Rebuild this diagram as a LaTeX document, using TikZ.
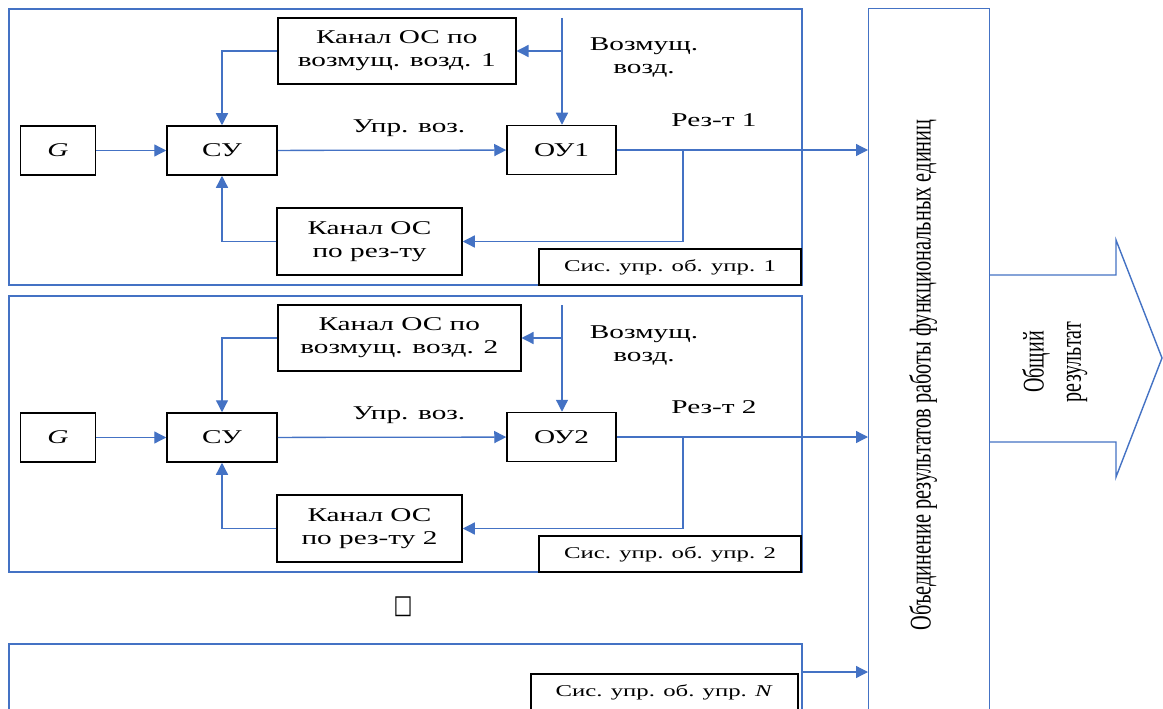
\documentclass[tikz,border=0pt]{standalone}
\usepackage{fontspec}
\setmainfont{Liberation Serif}
\newfontfamily\symfont{DejaVu Sans}
\usetikzlibrary{arrows.meta,calc}
\definecolor{lineblue}{RGB}{68,114,196}
\newcommand{\hs}[1]{\scalebox{1.5}[1]{#1}}
\newcommand{\mfs}{\fontsize{19.5}{23}\selectfont}
\newcommand{\lfs}{\fontsize{16.5}{20}\selectfont}
\tikzset{
  box/.style={draw=black, line width=1.5pt, fill=white, inner sep=0pt, align=center, font=\mfs},
  conn/.style={draw=lineblue, line width=1.3pt},
  arr/.style={conn, -{Triangle[length=12pt,width=12pt]}},
  frame/.style={draw=lineblue, line width=1.4pt},
  lbl/.style={font=\mfs, inner sep=0pt, align=center}
}
\newcommand{\sysblock}[8]{%
\begin{scope}[shift={(0,#2)}]
\draw[frame] (9,9) rectangle (802,285);
\node[box, minimum width=75pt, minimum height=49pt] (G#1) at (58,150.5) {\hs{\textit{G}}};
\node[box, minimum width=110pt, minimum height=49pt] (su#1) at (222,150.5) {\hs{СУ}};
\node[box, anchor=west, minimum width=#8, minimum height=66pt] (kv#1) at (277,51) {#3};
\node[box, minimum width=185pt, minimum height=67pt] (kr#1) at (369.5,241.5) {#4};
\node[box, minimum width=109pt, minimum height=49pt] (ou#1) at (561.5,150) {\hs{#5}};
\node[box, minimum width=262pt, minimum height=36pt, font=\lfs] (lab#1) at (670,267) {\hs{#7}};
\coordinate (d#1) at (562,18);
\coordinate (b#1) at (562,51);
\coordinate (r#1) at (683,150);
\draw[arr] (G#1) -- (su#1);
\draw[arr] (su#1) -- (ou#1);
\draw[arr] (kv#1.west) -| (su#1.north);
\draw[arr] (kr#1.west) -| (su#1.south);
\draw[arr] (d#1) -- (d#1 |- ou#1.north);
\draw[arr] (b#1) -- (b#1 -| kv#1.east);
\draw[arr] (ou#1.east) -- (ou#1.east -| big.west);
\draw[arr] (r#1) |- (kr#1.east);
\node[lbl] (u#1) at (409,128) {\hs{Упр. воз.}};
\node[lbl] (v#1) at (644,58) {\hs{Возмущ.}\\\hs{возд.}};
\node[lbl] (rz#1) at (714,120) {\hs{#6}};
\end{scope}}
\begin{document}
\begin{tikzpicture}[x=1pt,y=-1pt]
\clip (0,0) rectangle (1163,709);
\fill[white] (0,0) rectangle (1163,709);
% big arrow
\draw[frame, fill=white] (989,275) -- (1116,275) -- (1116,240) -- (1162,358) -- (1116,477) -- (1116,442) -- (989,442);
% combining box
\node[draw=lineblue, line width=1.4pt, anchor=north west, minimum width=121pt, minimum height=720pt, inner sep=0pt] (big) at (868,8) {};
\node[rotate=90, font=\fontsize{20}{24}\selectfont, inner sep=0pt] (tv) at (923,375)
  {\resizebox{511pt}{\height}{\scalebox{1}[1.5]{Объединение результатов работы функциональных единиц}}};
\node[rotate=90, font=\fontsize{20}{24}\selectfont, inner sep=0pt] (ob) at (1036,362) {\scalebox{1}[1.5]{Общий}};
\node[rotate=90, font=\fontsize{20}{24}\selectfont, inner sep=0pt] (rs) at (1077,362) {\scalebox{1}[1.5]{результат}};
% blocks
\sysblock{1}{0}{\hs{Канал ОС по}\\\hs{возмущ. возд. 1}}{\hs{Канал ОС}\\\hs{по рез-ту}}{ОУ1}{Рез-т 1}{Сис. упр. об. упр. 1}{238pt}
\sysblock{2}{287}{\hs{Канал ОС по}\\\hs{возмущ. возд. 2}}{\hs{Канал ОС}\\\hs{по рез-ту 2}}{ОУ2}{Рез-т 2}{Сис. упр. об. упр. 2}{243pt}
% ellipsis glyph
\node[inner sep=0pt, font=\symfont\fontsize{20}{20}\selectfont] (dots) at (403,607) {\scalebox{1}[1.3]{□}};
% block N
\draw[frame] (9,720) -- (9,644) -- (802,644) -- (802,720);
\node[box, anchor=north west, minimum width=267pt, minimum height=38pt, font=\lfs] (labN) at (530,673) {\hs{Сис. упр. об. упр. \textit{N}}};
\coordinate (oN) at (802,672);
\draw[arr] (oN) -- (oN -| big.west);
\end{tikzpicture}
\end{document}
